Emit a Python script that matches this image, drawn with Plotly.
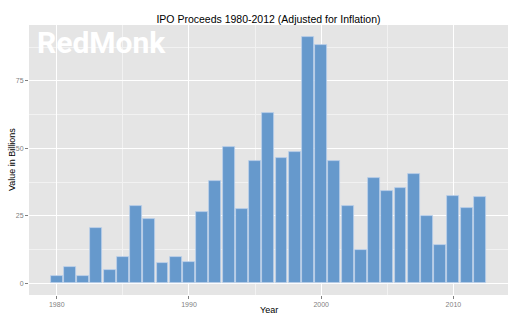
import plotly.graph_objects as go

years = list(range(1980, 2013))
values = [2.6, 6.0, 2.6, 20.6, 4.9, 9.6, 28.5, 23.7, 7.5, 9.9, 7.8, 26.5, 38.0, 50.7,
          27.5, 45.3, 63.0, 46.5, 48.5, 91.1, 88.4, 45.3, 28.6, 12.2, 39.0, 34.2,
          35.4, 40.5, 24.9, 14.4, 32.2, 28.1, 32.0]

title_text = "IPO Proceeds 1980-2012 (Adjusted for Inflation)"
x_title = "Year"
y_title = "Value in Billions"
watermark = "RedMonk"

fig = go.Figure()
fig.add_trace(go.Bar(
    x=years, y=values, width=0.9,
    marker=dict(color="#6699CC", line=dict(color="rgba(190,210,235,0.9)", width=0.8)),
))

font = "Liberation Sans, Arial, sans-serif"
fig.update_layout(
    width=520, height=322,
    margin=dict(l=29, r=12, t=25, b=27),
    paper_bgcolor="white", plot_bgcolor="#E5E5E5",
    showlegend=False,
    bargap=0,
    font=dict(family=font),
    title=dict(text=title_text, x=0.5163, xanchor="center", y=1 - 19/322, yanchor="middle",
               font=dict(size=10.5, color="black", family=font)),
)
fig.update_xaxes(
    range=[1977.9, 2014.13], tick0=1980, dtick=10, automargin=False,
    showgrid=True, gridcolor="white", gridwidth=1,
    minor=dict(dtick=5, tick0=1980, showgrid=True, gridcolor="#F2F2F2", gridwidth=0.6, ticklen=0),
    ticks="outside", ticklen=3, tickcolor="#7F7F7F", tickwidth=1,
    tickfont=dict(size=7, color="#7F7F7F"),
    zeroline=False, showline=False,
)
fig.update_yaxes(
    range=[-4.3, 95.7], tick0=0, dtick=25, automargin=False,
    showgrid=True, gridcolor="white", gridwidth=1,
    minor=dict(dtick=12.5, tick0=0, showgrid=True, gridcolor="#F2F2F2", gridwidth=0.6, ticklen=0),
    ticks="outside", ticklen=3, tickcolor="#7F7F7F", tickwidth=1,
    tickfont=dict(size=7, color="#7F7F7F"),
    zeroline=False, showline=False,
)
fig.add_annotation(
    text=x_title, xref="paper", yref="paper", x=0.5, y=-(310 - 295) / 270,
    xanchor="center", yanchor="middle", showarrow=False,
    font=dict(size=9, color="black", family=font),
)
fig.add_annotation(
    text=y_title, xref="paper", yref="paper", x=-(29 - 12) / 479, y=0.5,
    xanchor="center", yanchor="middle", showarrow=False, textangle=-90,
    font=dict(size=9, color="black", family=font),
)
fig.add_annotation(
    text="<b>" + watermark + "</b>", xref="paper", yref="paper",
    x=(35 - 29) / 479, y=1 - (23 - 25) / 270, xanchor="left", yanchor="top",
    showarrow=False,
    font=dict(size=30, color="white", family="Roboto, sans-serif"),
)
fig.write_html("out.html")
